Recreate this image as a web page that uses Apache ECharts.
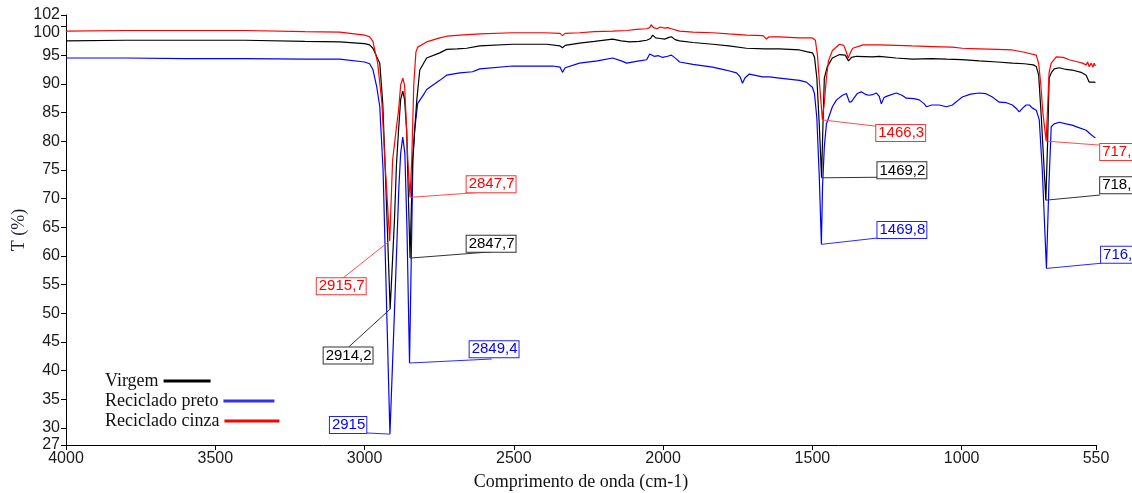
<!DOCTYPE html>
<html>
<head>
<meta charset="utf-8">
<script src="https://cdn.jsdelivr.net/npm/echarts@6/dist/echarts.min.js"></script>
<style>
html,body{margin:0;padding:0;background:#fff;}
#c{width:1132px;height:493px;}
</style>
</head>
<body>
<div id="c"></div>
<script>
// ---- Data ----
const seriesNames = ['Virgem', 'Reciclado preto', 'Reciclado cinza'];

const virgemWn = [4000,3800,3600,3400,3200,3083,3000,2983,2972,2959,2949,2939,2932,2914.2,2900,2893,2886,2879,2872,2866,2859,2853,2847.7,2839,2825,2815,2792,2748,2725,2690,2658,2614,2504,2390,2345,2337,2328,2280,2230,2169,2140,2112,2080,2055,2042,2035,2025,2010,1995,1980,1972,1960,1945,1900,1834,1780,1721,1660,1610,1543,1520,1500,1493,1485,1477,1469.2,1465,1460,1450,1433,1409,1390,1379,1369,1352,1300,1276,1220,1165,1100,1051,1000,941,880,830,790,760,750,742,733,718,712,707,700,690,673,650,630,600,583,573,556,552];
const virgemT  = [97.5,97.6,97.6,97.6,97.4,97.3,97.0,96.8,96.2,94.7,93.6,86.6,77,50.7,66,76,82,87.3,88.7,87.3,82,70,59.6,76.7,87.2,92.4,94.5,95.4,96.0,96.1,96.2,96.6,96.9,96.9,96.6,96.3,96.7,97.1,97.4,97.8,97.5,97.3,97.4,97.6,97.9,98.5,98.0,97.9,97.8,98.1,98.2,97.7,97.5,97.2,96.9,96.6,96.2,96.1,96.1,95.9,95.6,95.4,94.7,91,83,73.6,82,91,93,94.5,95.1,95.0,94.0,94.6,94.8,94.7,94.8,94.5,94.3,94.4,94.3,94.2,94.0,93.8,93.6,93.5,93.3,93.0,91.5,84,69.7,80,91,91.9,92.6,92.8,92.5,92.4,92.0,91.5,90.3,90.3,90.2];

const pretoWn = [4000,3800,3600,3400,3200,3083,3000,2983,2972,2959,2949,2945,2938,2915,2900,2885,2879,2872,2865,2858,2849.4,2838,2832,2822,2800,2792,2748,2725,2681,2638,2614,2504,2370,2345,2337,2328,2280,2220,2169,2140,2122,2080,2055,2045,2030,2015,2002,1985,1972,1955,1945,1900,1834,1790,1754,1742,1734,1726,1711,1667,1644,1610,1543,1520,1500,1493,1485,1477,1469.8,1466,1460,1453,1433,1419,1399,1386,1376,1369,1350,1336,1320,1309,1299,1286,1276,1269,1260,1252,1219,1200,1185,1160,1142,1125,1118,1100,1075,1051,1031,1010,998,970,941,920,897,885,874,850,830,815,807,795,784,773,764,750,740,730,716,708,700,690,673,650,630,610,583,570,556,552];
const pretoT  = [94.5,94.5,94.4,94.4,94.3,94.3,93.8,93.5,92.5,89.4,86,82,75,28.9,50,72,77.9,80.7,77.9,65,41.3,76.7,82,86.6,88.3,89.0,90.6,91.5,91.9,92.1,92.6,93.1,93.1,92.9,92.0,92.8,93.6,94.0,94.5,94.0,93.6,94.0,94.2,95.2,94.8,94.9,94.6,94.8,95.0,94.3,93.8,93.4,92.9,92.4,91.9,91.2,90.1,91.0,91.7,91.2,91.2,91.0,90.6,90.3,89.4,88.3,84,74,62.0,72,79,83,86,87.2,88.0,88.3,86.8,86.9,88.3,88.6,88.1,88.0,88.1,88.4,87.8,86.5,87.6,87.8,88.4,88.0,87.5,87.4,87.2,86.5,86.0,86.3,86.3,86.0,86.3,87.2,87.7,88.2,88.4,88.3,87.7,87.2,86.8,86.7,86.3,85.6,85.1,85.8,86.3,86.3,85.8,85.4,83.7,75,57.8,72,82.5,83.0,83.3,83.0,82.8,82.4,81.9,81.3,80.7,80.6];

const cinzaWn = [4000,3800,3600,3400,3200,3083,3000,2983,2972,2966,2956,2942,2932,2915.7,2906,2893,2886,2879,2872,2866,2862,2855,2847.7,2842,2835,2828,2822,2792,2748,2725,2681,2614,2504,2400,2345,2337,2328,2280,2230,2169,2120,2090,2055,2045,2040,2032,2020,2010,1995,1985,1972,1945,1900,1834,1780,1721,1665,1654,1645,1610,1543,1500,1490,1483,1476,1466.3,1460,1453,1446,1433,1409,1395,1386,1380,1372,1365,1330,1276,1220,1165,1100,1031,998,941,880,830,790,750,742,735,728,717,712,707,700,683,660,640,610,596,583,578,573,566,560,556,552];
const cinzaT  = [99.2,99.3,99.3,99.3,99.1,99.0,98.5,98.2,97.4,95.9,93.6,86.7,76.7,62.6,76.7,82.5,85.4,89.8,91.0,89.8,85.4,76.7,70.2,76.7,90,95.5,96.4,97.3,98.0,98.3,98.5,98.7,98.9,98.9,98.8,98.4,98.8,98.9,99.1,99.2,99.3,99.5,99.6,99.8,100.3,99.8,99.6,99.9,99.7,99.8,99.6,99.2,99.0,98.9,98.7,98.5,98.4,97.8,98.2,98.2,98.0,98.0,97.6,95,90,83.7,86.7,91,94,95.8,96.9,96.7,95.5,94.5,95.5,96.2,96.8,96.8,96.7,96.6,96.5,96.4,96.2,96.1,96.0,95.9,95.5,95.0,93.5,90,85,80.0,86,92,93.6,94.7,94.6,94.2,93.8,93.6,93.3,93.8,93.0,93.6,92.9,93.6,93.1];

const yTicks = [27,30,35,40,45,50,55,60,65,70,75,80,85,90,95,100,102];
const xTicks = [4000,3500,3000,2500,2000,1500,1000,550];

// peak annotations
const peakText   = ['2915,7','2914,2','2915','2847,7','2847,7','2849,4','1466,3','1469,2','1469,8','717,6','718,5','716,2'];
const peakOf     = [2,0,1,2,0,1,2,0,1,2,0,1]; // index into seriesNames
const peakWn     = [2915.7,2914.2,2915,2847.7,2847.7,2849.4,1466.3,1469.2,1469.8,717,718,716];
const peakT      = [62.6,50.7,28.9,70.2,59.6,41.3,83.7,73.6,62.0,80.0,69.7,57.8];
const leaderWn   = [3073,3053,2993,2574,2574,2574,1286,1282,1282,536,536,533];
const leaderT    = [56.1,44.1,29.1,71.2,60.7,42.0,82.6,73.7,63.1,79.3,70.6,58.7];
const boxWn      = [3160,3137,3116,2658,2658,2648,1286,1282,1282,536,536,533];
const boxT       = [54.7,42.6,30.5,72.5,62.1,43.7,81.4,74.9,64.5,78.1,72.3,60.2];

// ---- Styles ----
const colors = ['#000000', '#0000ff', '#ff0000'];
const legendColors = ['#000000', '#3333ee', '#ff0000'];
const legendIconW = [47, 51, 55];
const boxBorder = ['#333333', '#2222ff', '#ff3333'];
const leaderColor = ['#333333', '#2a2aff', '#ff4d4d'];
const serifFont = '"Liberation Serif", "DejaVu Serif", serif';
const sansFont = '"Liberation Sans", Arial, sans-serif';

function zip(a, b) { return a.map((v, i) => [v, b[i]]); }

const spectra = [zip(virgemWn, virgemT), zip(pretoWn, pretoT), zip(cinzaWn, cinzaT)];
const annData = peakWn.map((v, i) => [v, peakT[i], leaderWn[i], leaderT[i], boxWn[i], boxT[i], i]);

const chart = echarts.init(document.getElementById('c'), null, {renderer: 'canvas'});

const lineSeries = seriesNames.map((n, k) => ({
  name: n,
  type: 'line',
  data: spectra[k],
  showSymbol: false,
  symbol: 'none',
  lineStyle: {color: colors[k], width: 1.2},
  itemStyle: {color: legendColors[k]},
  z: 3 + (k === 1 ? 0 : k === 0 ? 1 : 2),
  animation: false
}));

const annSeries = {
  type: 'custom',
  coordinateSystem: 'cartesian2d',
  clip: false,
  z: 20,
  silent: true,
  encode: {x: 0, y: 1},
  data: annData,
  renderItem: function (params, api) {
    const i = api.value(6);
    const k = peakOf[i];
    const p = api.coord([api.value(0), api.value(1)]);
    const e = api.coord([api.value(2), api.value(3)]);
    const b = api.coord([api.value(4), api.value(5)]);
    return {
      type: 'group',
      children: [
        {
          type: 'line',
          shape: {x1: p[0], y1: p[1], x2: e[0], y2: e[1]},
          style: {stroke: leaderColor[k], lineWidth: 1}
        },
        {
          type: 'text',
          x: b[0], y: b[1],
          style: {
            text: peakText[i],
            fill: colors[k],
            font: '15px ' + sansFont,
            align: 'left',
            verticalAlign: 'middle',
            backgroundColor: '#ffffff',
            borderColor: boxBorder[k],
            borderWidth: 1,
            padding: [1, 1, 0, 2]
          }
        }
      ]
    };
  }
};

const legends = seriesNames.map((n, k) => ({
  data: [n],
  orient: 'horizontal',
  left: 105,
  top: 372 + k * 20,
  align: 'right',
  icon: 'rect',
  itemWidth: legendIconW[k],
  itemHeight: 3,
  padding: 0,
  selectedMode: false,
  textStyle: {fontFamily: serifFont, fontSize: 18, color: '#111111'}
}));

const option = {
  animation: false,
  backgroundColor: '#ffffff',
  grid: {left: 66, right: 36, top: 15, bottom: 48, containLabel: false, outerBoundsMode: 'none'},
  legend: legends,
  xAxis: {
    type: 'value',
    min: 550,
    max: 4000,
    inverse: true,
    name: 'Comprimento de onda (cm-1)',
    nameLocation: 'middle',
    nameGap: 28,
    nameMoveOverlap: false,
    nameTextStyle: {fontFamily: serifFont, fontSize: 18, color: '#111111'},
    axisLine: {show: true, onZero: false, lineStyle: {color: '#000000', width: 1}},
    axisTick: {show: true, length: 5, inside: false, customValues: xTicks, lineStyle: {color: '#000000'}},
    axisLabel: {customValues: xTicks, margin: 6, fontFamily: sansFont, fontSize: 16, color: '#1a1a1a',
      formatter: function (v) { return String(v); }},
    splitLine: {show: false}
  },
  yAxis: {
    type: 'value',
    min: 27,
    max: 102,
    name: 'T (%)',
    nameLocation: 'middle',
    nameGap: 38,
    nameMoveOverlap: false,
    nameTextStyle: {fontFamily: serifFont, fontSize: 18, color: '#1a1a3a'},
    axisLine: {show: true, onZero: false, lineStyle: {color: '#000000', width: 1}},
    axisTick: {show: true, length: 5, inside: false, customValues: yTicks, lineStyle: {color: '#000000'}},
    axisLabel: {
      customValues: yTicks,
      margin: 6,
      fontFamily: sansFont,
      fontSize: 16,
      color: '#1a1a1a',
      formatter: function (v) { return v === 100 ? '{d|100}' : String(v); },
      rich: {d: {padding: [12, 0, 0, 0], fontSize: 16, fontFamily: sansFont, color: '#1a1a1a'}}
    },
    splitLine: {show: false}
  },
  series: lineSeries.concat([annSeries])
};

chart.setOption(option);
</script>
</body>
</html>
